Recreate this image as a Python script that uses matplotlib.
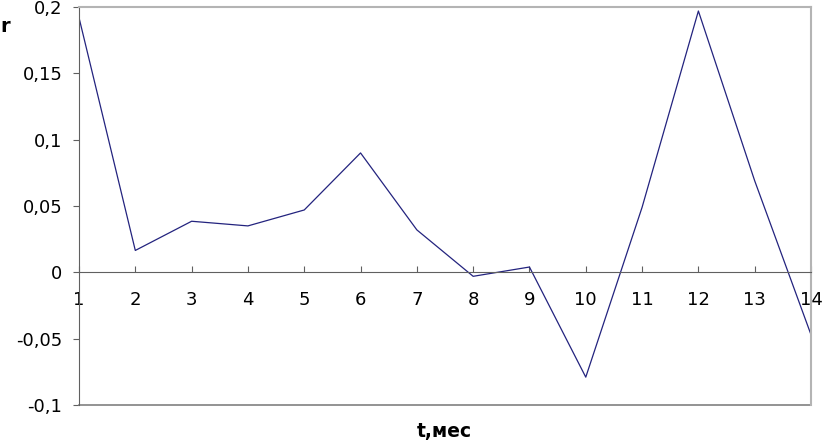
import matplotlib.pyplot as plt

# monthly values of r
months = list(range(1, 15))
r_values = [0.192, 0.0165, 0.0385, 0.035, 0.047, 0.09, 0.032, -0.003,
            0.004, -0.079, 0.049, 0.197, 0.069, -0.047]

y_ticks = [-0.1, -0.05, 0, 0.05, 0.1, 0.15, 0.2]
y_tick_labels = ["-0,1", "-0,05", "0", "0,05", "0,1", "0,15", "0,2"]

plt.rcParams['font.family'] = ['DejaVu Sans']

fig = plt.figure(figsize=(8.22, 4.4), dpi=100)
ax = fig.add_axes([79 / 822, 35 / 440, 732 / 822, 398 / 440])

ax.plot(months, r_values, color='#23237e', linewidth=0.9)

ax.set_xlim(1, 14)
ax.set_ylim(-0.1, 0.2)

# x axis sits on the zero line
ax.spines['bottom'].set_position(('data', 0))
ax.spines['bottom'].set_color('#606060')
ax.spines['left'].set_color('#606060')
ax.spines['top'].set_color('#b4b4b4')
ax.spines['right'].set_color('#b4b4b4')
ax.spines['top'].set_linewidth(1.5)
ax.spines['right'].set_linewidth(1.5)
ax.axhline(-0.1, color='#808080', linewidth=1.2, clip_on=False)

ax.set_xticks(months)
ax.set_xticklabels([str(m) for m in months])
ax.set_yticks(y_ticks)
ax.set_yticklabels(y_tick_labels)

ax.tick_params(axis='x', direction='in', length=4, width=0.8, color='#606060',
               pad=13.5, labelsize=13)
ax.tick_params(axis='y', direction='out', length=4, width=0.8, color='#606060',
               pad=8, labelsize=13)

fig.text(0 / 822, 1 - 27 / 440, "r", fontsize=14, fontweight='bold',
         ha='left', va='center')
fig.text(444 / 822, 1 - 431 / 440, "t,мес", fontsize=13.5, fontweight='bold',
         ha='center', va='center')

fig.savefig("out.png", dpi=100)
